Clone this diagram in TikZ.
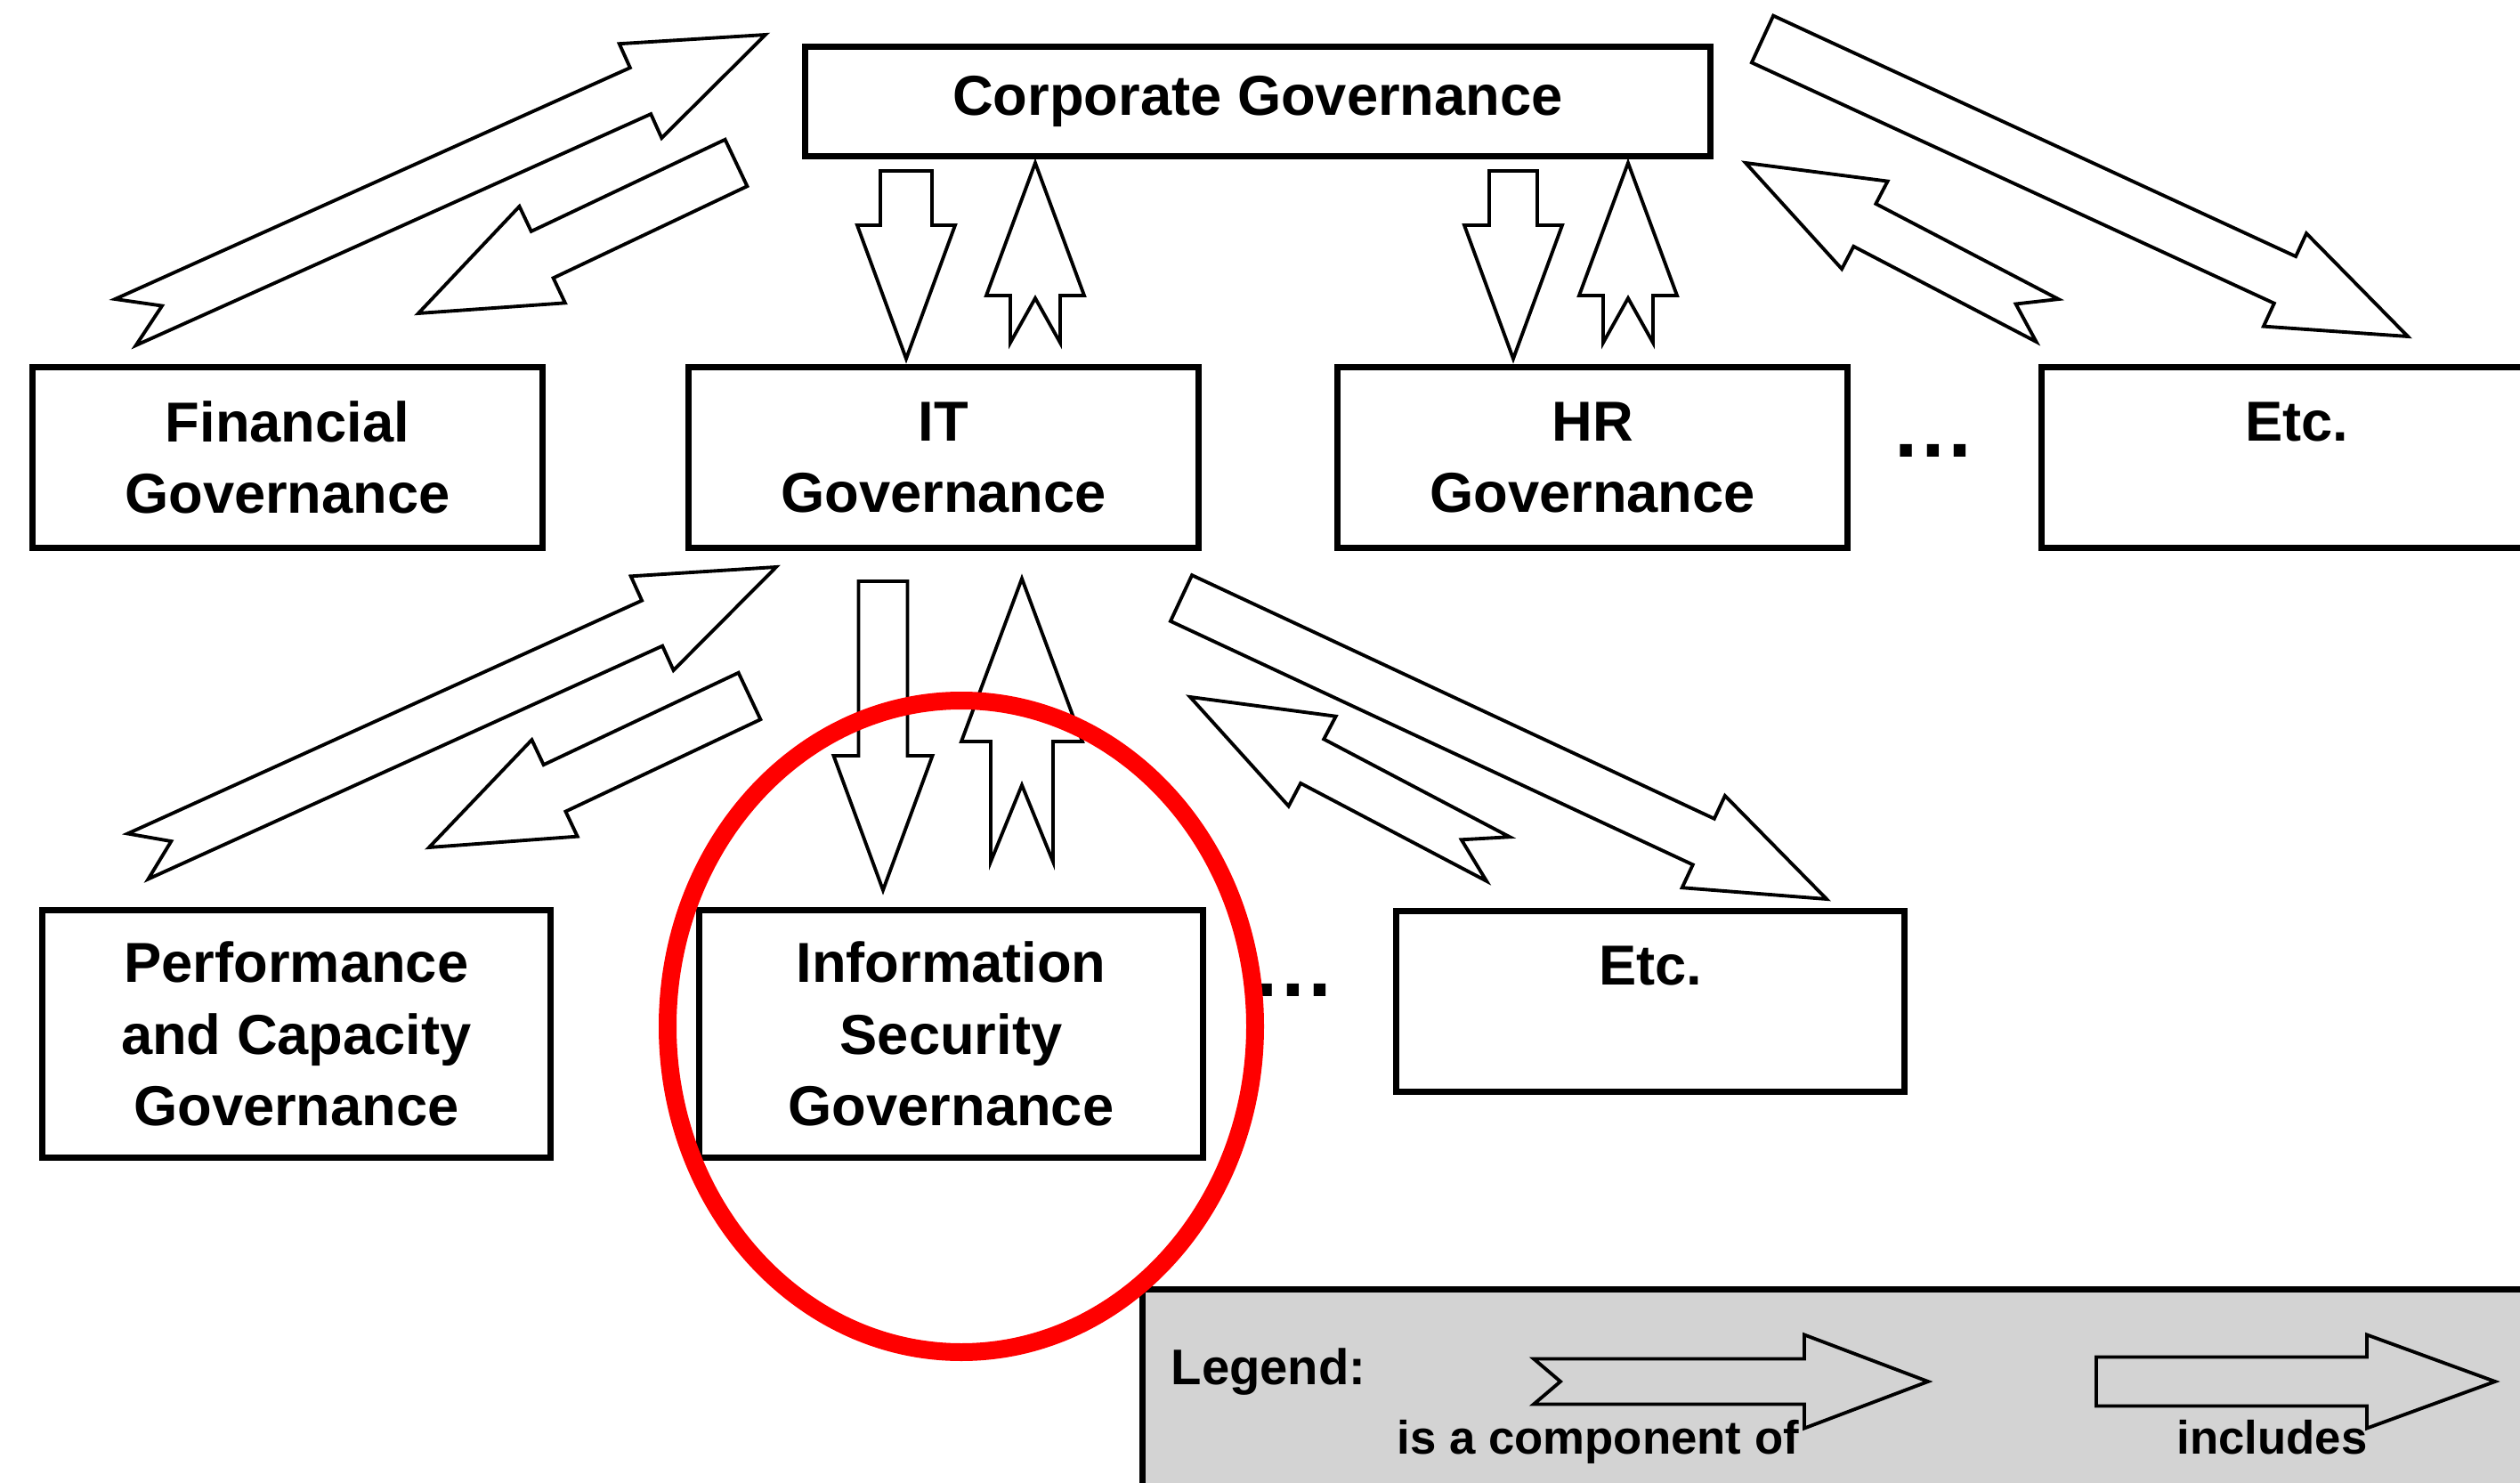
\documentclass[tikz,border=0pt]{standalone}
\usepackage{fontspec}
\setmainfont{Liberation Sans}
\usepackage{tikz}
\usetikzlibrary{calc}

\definecolor{legendgray}{RGB}{211,211,211}
\definecolor{markred}{RGB}{255,0,0}

% block arrow: [style]{tail}{tip}{half shaft}{half head}{head length}{notch}
\newcommand{\blockarrow}[7][]{%
        \coordinate (hb) at ($(#3)!#6!(#2)$);
        \draw[blkarrow,#1] ($(#2)!#4!90:(#3)$) -- ($(hb)!#4!90:(#3)$) -- ($(hb)!#5!90:(#3)$) -- (#3)
            -- ($(hb)!#5!-90:(#3)$) -- ($(hb)!#4!-90:(#3)$) -- ($(#2)!#4!-90:(#3)$) -- ($(#2)!#7!(#3)$) -- cycle;
}

\begin{document}
\begin{tikzpicture}[line join=miter]
        \tikzstyle{govnode}=[
            draw=black,
            line width=2pt,
            fill=white,
            align=center,
            inner sep=0pt,
            font=\fontsize{18}{22.8}\selectfont\bfseries
        ]
        \tikzstyle{blkarrow}=[
            draw=black,
            line width=1.1pt,
            fill=white
        ]
        \tikzstyle{legtext}=[
            anchor=base west,
            inner sep=0pt,
            font=\fontsize{15}{17}\selectfont\bfseries
        ]
        \tikzstyle{dotsnode}=[
            font=\fontsize{27}{29}\selectfont\bfseries
        ]

        \useasboundingbox (0,0) rectangle (28.31,-16.66);
        \clip (0,0) rectangle (28.31,-16.66);

        \node[govnode, minimum width=10.17cm, minimum height=1.23cm] (corp) at (14.13,-1.14) {Corporate Governance};
        \node[govnode, minimum width=5.73cm, minimum height=2.03cm] (fin) at (3.23,-5.14) {Financial\\Governance};
        \node[govnode, minimum width=5.73cm, minimum height=2.03cm] (it) at (10.60,-5.14) {IT\\Governance};
        \node[govnode, minimum width=5.73cm, minimum height=2.03cm] (hr) at (17.89,-5.14) {HR\\Governance};
        \node[govnode, minimum width=5.73cm, minimum height=2.03cm] (etcA) at (25.80,-5.14) {Etc.\\\mbox{}};
        \node[govnode, minimum width=5.71cm, minimum height=2.78cm] (perf) at (3.33,-11.615) {Performance\\and Capacity\\Governance};
        \node[govnode, minimum width=5.66cm, minimum height=2.78cm] (isec) at (10.685,-11.615) {Information\\Security\\Governance};
        \node[govnode, minimum width=5.71cm, minimum height=2.03cm] (etcB) at (18.54,-11.25) {Etc.\\\mbox{}};

        \node[dotsnode] (dotsA) at (21.72,-5.06) {\textellipsis};
        \node[dotsnode] (dotsB) at (14.53,-11.12) {\textellipsis};

        % corporate level
        \coordinate (finUpT) at (1.41,-3.62);   \coordinate (finUpH) at (8.60,-0.39);
        \coordinate (finDnT) at (8.27,-1.83);   \coordinate (finDnH) at (4.70,-3.52);
        \coordinate (itDnT) at (10.18,-1.92);   \coordinate (itDnH) at (10.18,-4.03);
        \coordinate (itUpT) at (11.63,-3.85);   \coordinate (itUpH) at (11.63,-1.83);
        \coordinate (hrDnT) at (17.00,-1.92);   \coordinate (hrDnH) at (17.00,-4.03);
        \coordinate (hrUpT) at (18.29,-3.85);   \coordinate (hrUpH) at (18.29,-1.83);
        \coordinate (etcADnT) at (19.80,-0.44); \coordinate (etcADnH) at (27.05,-3.78);
        \coordinate (etcAUpT) at (23.00,-3.60); \coordinate (etcAUpH) at (19.61,-1.83);

        \blockarrow{finUpT}{finUpH}{0.285cm}{0.58cm}{1.54cm}{0.45cm}
        \blockarrow{finDnT}{finDnH}{0.29cm}{0.60cm}{1.54cm}{0cm}
        \blockarrow{itDnT}{itDnH}{0.29cm}{0.55cm}{1.50cm}{0cm}
        \blockarrow{itUpT}{itUpH}{0.28cm}{0.55cm}{1.49cm}{0.50cm}
        \blockarrow{hrDnT}{hrDnH}{0.27cm}{0.55cm}{1.50cm}{0cm}
        \blockarrow{hrUpT}{hrUpH}{0.28cm}{0.55cm}{1.49cm}{0.50cm}
        \blockarrow{etcADnT}{etcADnH}{0.29cm}{0.575cm}{1.52cm}{0cm}
        \blockarrow{etcAUpT}{etcAUpH}{0.27cm}{0.556cm}{1.51cm}{0.40cm}

        % IT level
        \coordinate (perfUpT) at (1.55,-9.62);  \coordinate (perfUpH) at (8.72,-6.37);
        \coordinate (perfDnT) at (8.42,-7.82);  \coordinate (perfDnH) at (4.82,-9.52);
        \coordinate (isecDnT) at (9.92,-6.53);  \coordinate (isecDnH) at (9.92,-10.00);
        \coordinate (isecUpT) at (11.48,-9.68); \coordinate (isecUpH) at (11.48,-6.50);
        \coordinate (etcBDnT) at (13.27,-6.72); \coordinate (etcBDnH) at (20.52,-10.10);
        \coordinate (etcBUpT) at (16.83,-9.65); \coordinate (etcBUpH) at (13.37,-7.83);

        \blockarrow{perfUpT}{perfUpH}{0.28cm}{0.58cm}{1.53cm}{0.41cm}
        \blockarrow{perfDnT}{perfDnH}{0.29cm}{0.60cm}{1.56cm}{0cm}
        \blockarrow{isecDnT}{isecDnH}{0.275cm}{0.555cm}{1.51cm}{0cm}
        \blockarrow{isecUpT}{isecUpH}{0.35cm}{0.68cm}{1.83cm}{0.86cm}
        \blockarrow{etcBDnT}{etcBDnH}{0.285cm}{0.57cm}{1.525cm}{0cm}
        \blockarrow{etcBUpT}{etcBUpH}{0.28cm}{0.57cm}{1.55cm}{0.466cm}

        % legend
        \node[draw=black, line width=2pt, fill=legendgray, minimum width=16cm, minimum height=3cm, anchor=north west] (legend) at (12.80,-14.45) {};
        \coordinate (compT) at (17.23,-15.52);  \coordinate (compH) at (21.66,-15.52);
        \coordinate (inclT) at (23.55,-15.52);  \coordinate (inclH) at (28.03,-15.52);
        \blockarrow[fill=legendgray]{compT}{compH}{0.255cm}{0.525cm}{1.39cm}{0.30cm}
        \blockarrow[fill=legendgray]{inclT}{inclH}{0.275cm}{0.525cm}{1.44cm}{0cm}
        \node[legtext, font=\fontsize{16}{18}\selectfont\bfseries] (legtitle) at (13.15,-15.55) {Legend:};
        \node[legtext] (legcomp) at (15.69,-16.33) {is a component of};
        \node[legtext] (legincl) at (24.45,-16.33) {includes};

        \draw[markred, line width=0.2cm] (10.80,-11.53) ellipse [x radius=3.30cm, y radius=3.66cm];

    \end{tikzpicture}
\end{document}
